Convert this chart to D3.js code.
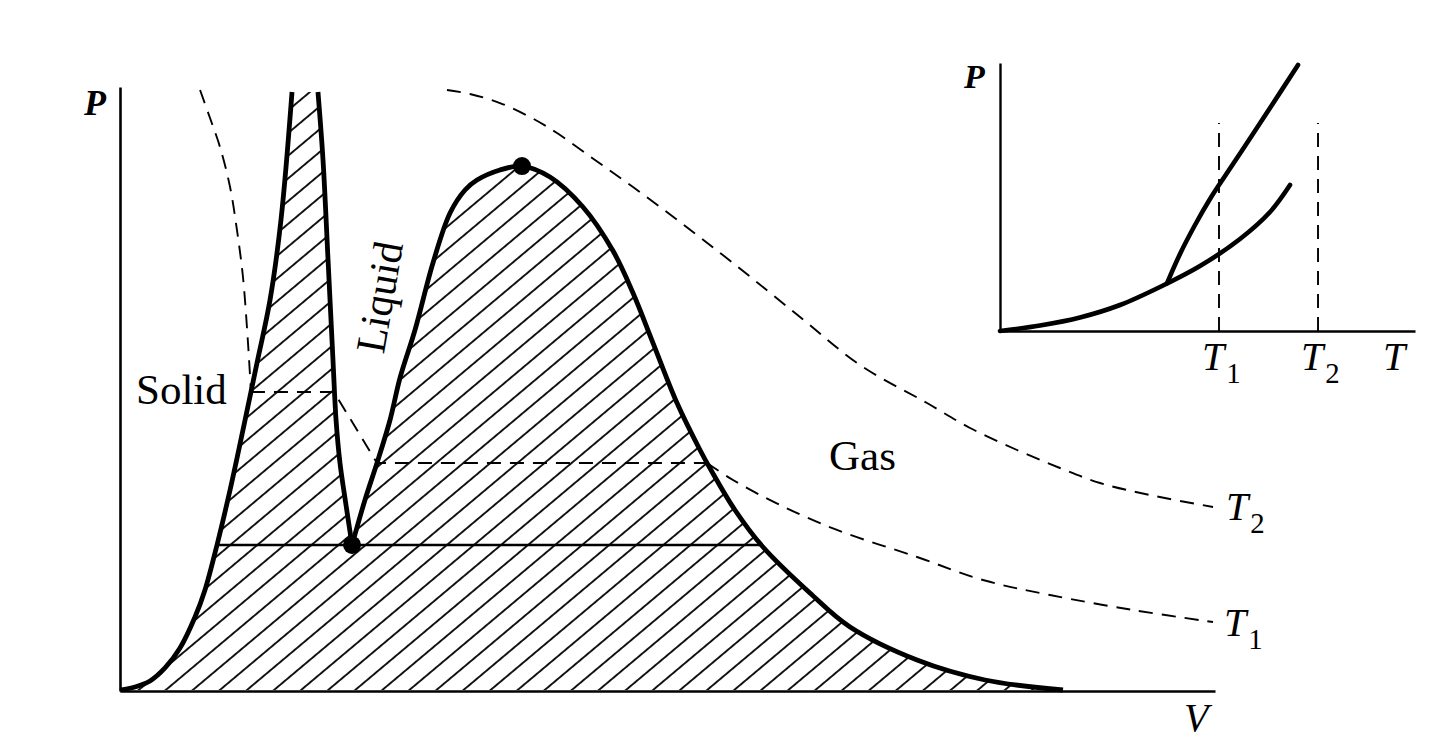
<!DOCTYPE html>
<html>
<head>
<meta charset="utf-8">
<script src="https://cdn.jsdelivr.net/npm/d3@7"></script>
<style>
  html, body { margin: 0; padding: 0; background: #fff; }
  svg { display: block; }
  text { font-family: "Liberation Serif", "DejaVu Serif", serif; fill: #000; }
</style>
</head>
<body>
<svg id="chart" width="1434" height="740"></svg>
<script>
// ---------- Main P–V diagram data (V and P in arbitrary units 0..100) ----------
// Left boundary of the coexistence region (solid edge)
const solidEdgeV = [0, 1.37, 2.74, 4.11, 5.48, 6.85, 7.76, 8.86, 10.05, 11.23, 12.51, 13.7, 14.7, 15.71];
const solidEdgeP = [0, 0.5, 1.5, 3.67, 7, 12.17, 16.67, 24.17, 33.33, 43.33, 54.5, 65, 78.33, 99.67];
// Right side of the narrow solid–liquid band, down to the triple point
const meltEdgeV = [18.08, 18.54, 19.0, 19.45, 19.73, 20.09, 20.64, 21.19];
const meltEdgeP = [99.67, 88.33, 71.67, 55, 45, 37.83, 30.83, 24.17];
// Liquid / gas dome from the triple point over the critical point to the V axis
const domeV = [21.19, 22.37, 23.47, 24.66, 25.57, 26.94, 28.58, 30.14, 31.51, 32.6, 34.7, 36.71, 39.27, 42.28, 45.02, 46.85, 48.68, 50.87, 52.97, 53.97, 56.16, 58.72, 63.01, 66.67, 72.79, 79.0, 86.12];
const domeP = [24.17, 31.67, 37.83, 45, 52, 60, 71.17, 79.5, 83.33, 85, 86.67, 87.33, 85.5, 80.5, 73.2, 66.17, 57.83, 47.83, 40, 36.67, 30, 23.83, 16.17, 10.5, 5, 1.67, 0];
// Triple line and special points
const tripleLineV = [8.86, 58.72];
const tripleLineP = [24.17, 24.17];
const triplePoint = [21.19, 24.17];
const criticalPoint = [36.71, 87.33];
// Isotherm T1 (dashed), as pieces: curved upper part, straight tie-lines, curved gas part
const isoT1V = [
  [7.31, 8.22, 9.13, 10.05, 10.68, 11.23, 11.69, 11.96],
  [11.96, 19.54, 23.47, 53.61],
  [53.61, 55.98, 60.27, 65.48, 72.79, 78.81, 84.93, 92.51, 99.82]
];
const isoT1P = [
  [100, 95.33, 90.5, 83.83, 76.67, 68.83, 57.83, 49.67],
  [49.67, 49.67, 37.83, 37.83],
  [37.83, 35, 30.83, 26.67, 22.17, 18.33, 15.83, 13.33, 11.33]
];
const isoT1Straight = [false, true, false];
// Isotherm T2 (dashed)
const isoT2V = [29.86, 31.96, 34.7, 37.44, 39.91, 43.38, 46.85, 51.14, 55.98, 62.1, 67.58, 73.7, 77.63, 81.92, 85.84, 89.5, 94.06, 99.82];
const isoT2P = [100, 99.33, 97.83, 95.5, 92.83, 88.33, 83.83, 78, 71.17, 62.17, 54.17, 47.83, 43.67, 40, 37, 34.5, 32.5, 30.5];

// ---------- Inset P–T diagram data ----------
const vaporT = [0, 9.64, 19.28, 28.92, 38.55, 48.19, 57.83, 65.06, 69.88];
const vaporP = [0, 2.05, 5.04, 9.7, 16.42, 24.25, 34.33, 44.4, 54.48];
const meltT = [40.24, 43.37, 46.99, 50.6, 54.22, 59.04, 65.06, 71.81];
const meltP = [17.8, 28.73, 39.55, 49.25, 57.84, 69.03, 83.21, 99.25];
const insetMarkT = [52.77, 76.63];
const insetMarkTop = 77.6;
const insetTickLabels = [["T", "1"], ["T", "2"], ["T", ""]];
const insetTickPos = [52.77, 76.63, 96.4];

// ---------- Drawing ----------
const svg = d3.select("#chart");
const zip = (a, b) => a.map((v, i) => [v, b[i]]);

const x = d3.scaleLinear().domain([0, 100]).range([120, 1215]);
const y = d3.scaleLinear().domain([0, 100]).range([690, 90]);

const line = d3.line().x(d => x(d[0])).y(d => y(d[1])).curve(d3.curveCatmullRom.alpha(0.5));
const straight = d3.line().x(d => x(d[0])).y(d => y(d[1])).curve(d3.curveLinear);

// hatch pattern
const defs = svg.append("defs");
const pat = defs.append("pattern")
  .attr("id", "hatch")
  .attr("patternUnits", "userSpaceOnUse")
  .attr("width", 20).attr("height", 17.4)
  .attr("patternTransform", "rotate(-40)");
pat.append("line").attr("x1", -2).attr("x2", 22).attr("y1", 8.7).attr("y2", 8.7)
  .attr("stroke", "#000").attr("stroke-width", 1.8);

const solidEdge = zip(solidEdgeV, solidEdgeP);
const meltEdge = zip(meltEdgeV, meltEdgeP);
const dome = zip(domeV, domeP);

const fillD = line(solidEdge) + line(meltEdge).replace(/^M/, "L") + line(dome).replace(/^M/, "L") + "Z";
svg.append("path").attr("d", fillD).attr("fill", "url(#hatch)").attr("stroke", "none");

// triple line
svg.append("path").attr("d", straight(zip(tripleLineV, tripleLineP)))
  .attr("fill", "none").attr("stroke", "#000").attr("stroke-width", 2.4);

// isotherms
isoT1V.forEach((vs, i) => {
  const gen = isoT1Straight[i] ? straight : line;
  svg.append("path").attr("d", gen(zip(vs, isoT1P[i])))
    .attr("fill", "none").attr("stroke", "#000").attr("stroke-width", 1.9)
    .attr("stroke-dasharray", "14,9");
});
svg.append("path").attr("d", line(zip(isoT2V, isoT2P)))
  .attr("fill", "none").attr("stroke", "#000").attr("stroke-width", 1.9)
  .attr("stroke-dasharray", "14,9");

// boundaries
[solidEdge, meltEdge, dome].forEach(seg => {
  svg.append("path").attr("d", line(seg))
    .attr("fill", "none").attr("stroke", "#000").attr("stroke-width", 4.8)
    .attr("stroke-linejoin", "round");
});

// special points
[triplePoint, criticalPoint].forEach(p => {
  svg.append("circle").attr("cx", x(p[0])).attr("cy", y(p[1])).attr("r", 9).attr("fill", "#000");
});

// axes
const xAxis = d3.axisBottom(x).tickValues([]).tickSizeOuter(0);
const yAxis = d3.axisLeft(d3.scaleLinear().domain([0, 100]).range([691, 87])).tickValues([]).tickSizeOuter(0);
svg.append("g").attr("transform", "translate(0,691)").call(xAxis)
  .select(".domain").attr("stroke", "#000").attr("stroke-width", 2.6);
svg.append("g").attr("transform", "translate(120,0)").call(yAxis)
  .select(".domain").attr("stroke", "#000").attr("stroke-width", 2.6);

// labels
svg.append("text").attr("x", 84).attr("y", 115).attr("font-size", 36).attr("font-style", "italic").attr("font-weight", "bold").text("P");
svg.append("text").attr("x", 1184).attr("y", 731).attr("font-size", 40).attr("font-style", "italic").text("V");
svg.append("text").attr("x", 136).attr("y", 404).attr("font-size", 43).text("Solid");
svg.append("text").attr("x", 829).attr("y", 470).attr("font-size", 43).text("Gas");
svg.append("text").attr("transform", "translate(379,297) rotate(-80)")
  .attr("text-anchor", "middle").attr("dy", "0.35em").attr("font-size", 42).text("Liquid");

function subLabel(g, px, py, main, sub, size) {
  const t = g.append("text").attr("x", px).attr("y", py).attr("font-size", size);
  t.append("tspan").attr("font-style", "italic").text(main);
  if (sub) t.append("tspan").attr("dx", 2).attr("dy", size * 0.32).attr("font-size", size * 0.72).text(sub);
}
subLabel(svg, 1226, 520, "T", "2", 40);
subLabel(svg, 1224, 636, "T", "1", 40);

// ---------- Inset ----------
const ix = d3.scaleLinear().domain([0, 100]).range([1000, 1415]);
const iy = d3.scaleLinear().domain([0, 100]).range([331, 63]);
const iline = d3.line().x(d => ix(d[0])).y(d => iy(d[1])).curve(d3.curveCatmullRom.alpha(0.5));

insetMarkT.forEach(t => {
  svg.append("path").attr("d", iline([[t, 0], [t, insetMarkTop]]))
    .attr("fill", "none").attr("stroke", "#000").attr("stroke-width", 1.9).attr("stroke-dasharray", "14,9");
});
svg.append("path").attr("d", iline(zip(vaporT, vaporP)))
  .attr("fill", "none").attr("stroke", "#000").attr("stroke-width", 4.6).attr("stroke-linecap", "round");
svg.append("path").attr("d", iline(zip(meltT, meltP)))
  .attr("fill", "none").attr("stroke", "#000").attr("stroke-width", 4.6).attr("stroke-linecap", "round");

svg.append("g").attr("transform", "translate(0,331)")
  .call(d3.axisBottom(ix).tickValues([]).tickSizeOuter(0))
  .select(".domain").attr("stroke", "#000").attr("stroke-width", 2.4);
svg.append("g").attr("transform", "translate(1000,0)")
  .call(d3.axisLeft(iy).tickValues([]).tickSizeOuter(0))
  .select(".domain").attr("stroke", "#000").attr("stroke-width", 2.4);

svg.append("text").attr("x", 964).attr("y", 88).attr("font-size", 34).attr("font-style", "italic").attr("font-weight", "bold").text("P");
insetTickLabels.forEach((lab, i) => {
  subLabel(svg, ix(insetTickPos[i]) - 17, 370, lab[0], lab[1], 40);
});
</script>
</body>
</html>
